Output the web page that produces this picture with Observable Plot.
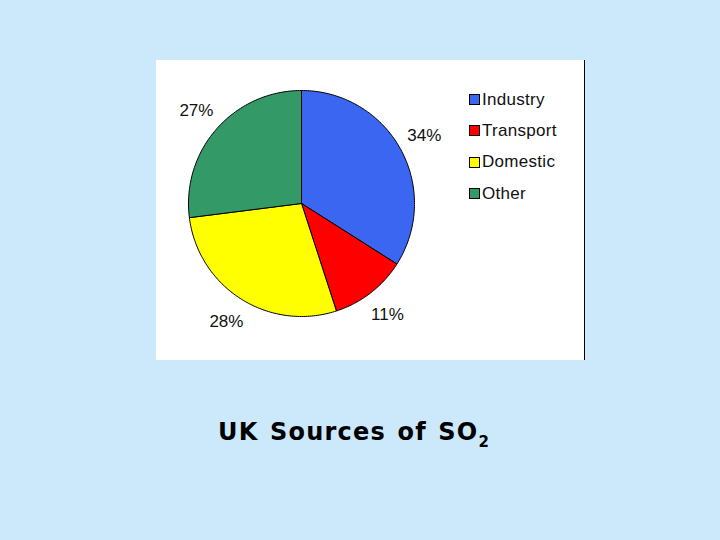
<!DOCTYPE html>
<html>
<head>
<meta charset="utf-8">
<script src="https://cdn.jsdelivr.net/npm/d3@7"></script>
<script src="https://cdn.jsdelivr.net/npm/@observablehq/plot@0.6"></script>
<style>
  html, body { margin: 0; padding: 0; }
  body { width: 720px; height: 540px; background: #cce9fb; position: relative; overflow: hidden; font-family: "Liberation Sans", Arial, sans-serif; }
  #box { position: absolute; left: 156px; top: 60px; width: 428px; height: 300px; background: #fff; border-right: 1px solid #000; }
  #chart { position: absolute; left: 0; top: 0; }
  #legend { position: absolute; left: 313px; top: 24px; }
  .item { display: flex; align-items: center; height: 31.3px; font-size: 17px; color: #111; letter-spacing: 0.3px; }
  .sw { width: 9px; height: 9px; border: 1px solid #000; margin-right: 2px; }
  #title { position: absolute; left: 218px; top: 420px; font-family: "DejaVu Sans", Verdana, sans-serif; font-weight: bold; font-size: 24px; line-height: 24px; letter-spacing: 1.2px; word-spacing: 2px; white-space: nowrap; color: #000; }
  #title sub { font-size: 15px; vertical-align: -7px; line-height: 0; letter-spacing: 0; }
</style>
</head>
<body>
<div id="box">
  <div id="chart"></div>
  <div id="legend"></div>
</div>
<div id="title">UK Sources of SO<sub>2</sub></div>
<script>
const categories = ["Industry", "Transport", "Domestic", "Other"];
const values = [34, 11, 28, 27];
const colors = ["#3a66f2", "#ff0000", "#ffff00", "#339966"];
const labels = ["34%", "11%", "28%", "27%"];

const table = categories.map((c, i) => ({cat: c, value: values[i], label: labels[i]}));
const arcs = d3.pie().sort(null).value(d => d.value)(table);

const polys = [];
arcs.forEach(a => {
  polys.push({cat: a.data.cat, x: 0, y: 0});
  const n = Math.max(2, Math.ceil((a.endAngle - a.startAngle) / (Math.PI / 180)));
  for (let k = 0; k <= n; k++) {
    const t = a.startAngle + (a.endAngle - a.startAngle) * k / n;
    polys.push({cat: a.data.cat, x: Math.sin(t), y: Math.cos(t)});
  }
  polys.push({cat: a.data.cat, x: 0, y: 0});
});

const labelPts = arcs.map(a => {
  const m = (a.startAngle + a.endAngle) / 2;
  return {label: a.data.label, x: 1.24 * Math.sin(m), y: 1.24 * Math.cos(m)};
});

const plot = Plot.plot({
  width: 300,
  height: 300,
  margin: 0,
  style: {background: "transparent", overflow: "visible"},
  x: {domain: [-1, 1], range: [32, 258], axis: null},
  y: {domain: [-1, 1], range: [256, 30], axis: null},
  color: {domain: categories, range: colors},
  marks: [
    Plot.line(polys, {x: "x", y: "y", z: "cat", fill: "cat", stroke: "#000", strokeWidth: 1, strokeLinejoin: "round", curve: "linear"}),
    Plot.text(labelPts, {x: "x", y: "y", text: "label", fontSize: 17, fill: "#111", fontFamily: "Liberation Sans, Arial, sans-serif"})
  ]
});
document.getElementById("chart").appendChild(plot);

const legend = document.getElementById("legend");
categories.forEach((c, i) => {
  const row = document.createElement("div");
  row.className = "item";
  const sw = document.createElement("span");
  sw.className = "sw";
  sw.style.background = colors[i];
  const tx = document.createElement("span");
  tx.textContent = c;
  row.appendChild(sw);
  row.appendChild(tx);
  legend.appendChild(row);
});
</script>
</body>
</html>
